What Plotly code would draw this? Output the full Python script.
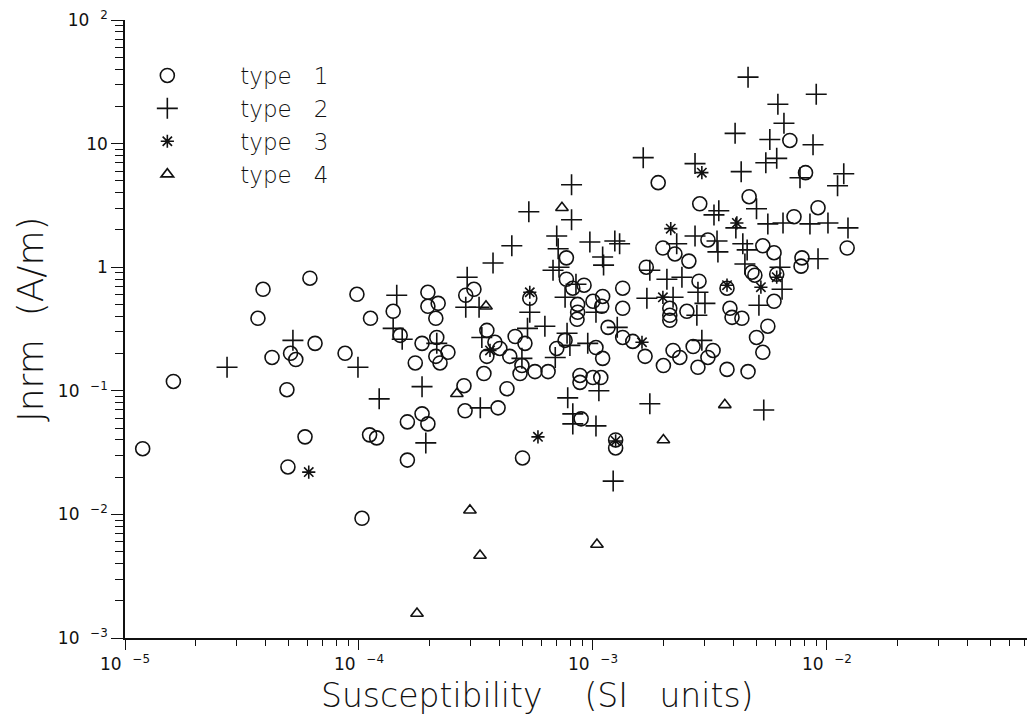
import plotly.graph_objects as go

# ---- data (susceptibility in SI, Jnrm in A/m) ----
type1_x = [1.19e-5, 1.61e-5, 3.89e-5, 3.70e-5, 6.17e-5, 4.25e-5, 5.10e-5, 5.37e-5, 6.49e-5, 8.72e-5,
           4.92e-5, 5.88e-5, 4.97e-5, 9.80e-5, 1.40e-4, 1.12e-4, 1.50e-4, 1.97e-4, 1.97e-4, 2.18e-4,
           2.13e-4, 1.74e-4, 1.86e-4, 2.15e-4, 2.40e-4, 2.13e-4, 2.22e-4, 1.86e-4, 1.61e-4, 1.97e-4,
           1.11e-4, 1.19e-4, 1.61e-4, 1.03e-4, 7.70e-4, 7.70e-4, 8.20e-4, 9.16e-4, 1.34e-3, 1.34e-3,
           8.60e-4, 8.60e-4, 8.55e-4, 1.00e-3, 1.10e-3, 1.09e-3, 3.10e-4, 2.86e-4, 5.37e-4, 3.52e-4,
           1.16e-3, 7.60e-4, 3.81e-4, 4.00e-4, 4.41e-4, 4.65e-4, 5.12e-4, 3.52e-4, 4.97e-4, 5.65e-4,
           6.43e-4, 4.88e-4, 3.42e-4, 4.29e-4, 2.81e-4, 2.84e-4, 3.93e-4, 7.00e-4, 1.03e-3, 1.10e-3,
           1.34e-3, 1.48e-3, 1.67e-3, 2.00e-3, 2.20e-3, 2.35e-3, 8.80e-4, 1.00e-3, 1.08e-3, 8.80e-4,
           8.90e-4, 1.25e-3, 1.25e-3, 5.00e-4, 1.90e-3, 4.65e-3, 9.16e-3, 2.86e-3, 7.23e-3, 3.10e-3,
           1.99e-3, 5.32e-3, 2.24e-3, 2.57e-3, 5.94e-3, 7.82e-3, 7.75e-3, 1.69e-3, 2.84e-3, 4.78e-3,
           4.92e-3, 6.10e-3, 3.74e-3, 5.94e-3, 2.52e-3, 3.85e-3, 3.93e-3, 4.33e-3, 5.59e-3, 2.13e-3,
           2.13e-3, 2.13e-3, 6.94e-3, 8.10e-3, 1.22e-2, 2.68e-3, 3.26e-3, 3.10e-3, 2.81e-3, 3.74e-3,
           4.60e-3, 5.00e-3, 5.32e-3]
type1_y = [0.034, 0.119, 0.663, 0.386, 0.815, 0.186, 0.201, 0.179, 0.242, 0.201,
           0.102, 0.0424, 0.0242, 0.604, 0.440, 0.386, 0.281, 0.627, 0.483, 0.510,
           0.386, 0.168, 0.242, 0.270, 0.205, 0.190, 0.168, 0.0651, 0.056, 0.054,
           0.044, 0.0416, 0.0275, 0.0093, 1.19, 0.799, 0.676, 0.715, 0.676, 0.465,
           0.500, 0.432, 0.379, 0.530, 0.580, 0.483, 0.663, 0.593, 0.560, 0.308,
           0.326, 0.256, 0.247, 0.220, 0.190, 0.275, 0.242, 0.190, 0.160, 0.143,
           0.143, 0.138, 0.138, 0.104, 0.110, 0.0689, 0.0728, 0.220, 0.224, 0.183,
           0.270, 0.251, 0.190, 0.160, 0.212, 0.186, 0.133, 0.128, 0.128, 0.117,
           0.0593, 0.0345, 0.040, 0.0286, 4.83, 3.72, 3.03, 3.26, 2.56, 1.66,
           1.43, 1.49, 1.28, 1.12, 1.31, 1.19, 1.02, 1.00, 0.770, 0.911,
           0.861, 0.877, 0.676, 0.530, 0.440, 0.465, 0.393, 0.386, 0.333, 0.465,
           0.408, 0.372, 10.6, 5.82, 1.43, 0.228, 0.212, 0.186, 0.155, 0.149,
           0.143, 0.270, 0.205]

type2_x = [2.73e-5, 5.22e-5, 1.45e-4, 1.40e-4, 1.53e-4, 9.90e-5, 1.22e-4, 1.86e-4, 1.93e-4, 2.15e-4,
           8.10e-4, 5.32e-4, 8.10e-4, 7.00e-4, 7.10e-4, 9.70e-4, 4.50e-4, 3.74e-4, 1.10e-3, 1.11e-3,
           1.24e-3, 1.30e-3, 6.75e-4, 7.16e-4, 8.46e-4, 7.60e-4, 1.03e-3, 2.90e-4, 2.86e-4, 3.26e-4,
           5.37e-4, 5.25e-4, 6.23e-4, 1.27e-3, 7.75e-4, 7.97e-4, 3.35e-4, 4.97e-4, 6.90e-4, 9.50e-4,
           1.06e-3, 7.80e-4, 8.20e-4, 8.20e-4, 1.03e-3, 1.22e-3, 1.75e-3, 3.30e-4, 1.70e-3, 2.20e-3,
           1.75e-3, 2.07e-3, 2.40e-3, 5.00e-3, 3.29e-3, 3.45e-3, 4.08e-3, 5.59e-3, 6.49e-3, 8.46e-3,
           1.01e-2, 2.73e-3, 3.39e-3, 2.28e-3, 4.37e-3, 4.56e-3, 3.42e-3, 9.16e-3, 2.81e-3, 4.46e-3,
           6.30e-3, 6.43e-3, 3.01e-3, 5.12e-3, 2.78e-3, 2.92e-3, 5.37e-3, 1.11e-2, 1.23e-2, 1.64e-3,
           2.73e-3, 4.60e-3, 9.00e-3, 6.17e-3, 6.55e-3, 4.05e-3, 5.70e-3, 8.72e-3, 5.48e-3, 6.10e-3,
           4.30e-3, 7.67e-3, 1.18e-2]
type2_y = [0.155, 0.256, 0.593, 0.320, 0.261, 0.155, 0.0861, 0.108, 0.0379, 0.242,
           4.65, 2.81, 2.42, 1.79, 1.41, 1.60, 1.49, 1.08, 1.21, 1.04,
           1.63, 1.55, 0.946, 1.00, 0.728, 0.571, 0.432, 0.830, 0.474, 0.474,
           0.432, 0.320, 0.333, 0.326, 0.292, 0.233, 0.270, 0.183, 0.186, 0.242,
           0.100, 0.0877, 0.0651, 0.054, 0.052, 0.0186, 0.0785, 0.0728, 0.560, 0.571,
           0.946, 0.799, 0.830, 2.97, 2.65, 2.86, 2.08, 2.24, 2.28, 2.24,
           2.28, 1.79, 1.63, 1.55, 1.55, 1.38, 1.33, 1.17, 0.627, 1.06,
           1.00, 0.663, 0.510, 0.492, 0.408, 0.256, 0.070, 4.56, 2.08, 7.70,
           6.89, 34.5, 25.1, 20.8, 14.6, 12.1, 10.8, 9.8, 7.0, 7.6,
           5.93, 5.30, 5.71]

type3_x = [6.10e-5, 3.63e-4, 5.37e-4, 5.82e-4, 1.25e-3, 1.62e-3, 1.99e-3, 2.15e-3, 2.92e-3, 4.12e-3,
           3.74e-3, 5.22e-3, 6.10e-3]
type3_y = [0.022, 0.212, 0.627, 0.0424, 0.0393, 0.247, 0.571, 2.05, 5.82, 2.28,
           0.715, 0.689, 0.83]

type4_x = [7.37e-4, 3.49e-4, 2.62e-4, 2.00e-3, 3.66e-3, 2.98e-4, 3.29e-4, 1.04e-3, 1.77e-4]
type4_y = [3.03, 0.483, 0.0946, 0.040, 0.077, 0.0108, 0.00465, 0.0057, 0.00158]

series_names = ["type\u00a0\u00a0\u00a01", "type\u00a0\u00a0\u00a02",
                "type\u00a0\u00a0\u00a03", "type\u00a0\u00a0\u00a04"]

x_tickvals = [1e-5, 1e-4, 1e-3, 1e-2]
x_ticktext = ["10\u00a0 <sup>\u22125</sup>", "10\u00a0 <sup>\u22124</sup>",
              "10\u00a0 <sup>\u22123</sup>", "10\u00a0 <sup>\u22122</sup>"]
y_tickvals = [1e-3, 1e-2, 1e-1, 1, 10, 100]
y_ticktext = ["10\u00a0 <sup>\u22123</sup>", "10\u00a0 <sup>\u22122</sup>", "10\u00a0 <sup>\u22121</sup>",
              "1", "10", "10\u00a0 <sup>2</sup>"]

FONT = "DejaVu Sans"
BLACK = "#111111"

fig = go.Figure()
specs = [
    (type1_x, type1_y, "circle-open", 14),
    (type2_x, type2_y, "cross-thin-open", 15),
    (type3_x, type3_y, "asterisk-open", 11),
    (type4_x, type4_y, "triangle-up-open", 11),
]
for (xs, ys, sym, sz), name in zip(specs, series_names):
    fig.add_trace(go.Scatter(
        x=xs, y=ys, mode="markers", name=name,
        marker=dict(symbol=sym, size=sz, color=BLACK, line=dict(color=BLACK, width=1.6)),
    ))

axis_common = dict(
    type="log", showline=True, linecolor=BLACK, linewidth=1.6, mirror=False,
    showgrid=False, zeroline=False, ticks="outside", tickcolor=BLACK, tickwidth=1.4,
    tickmode="array", tickfont=dict(family=FONT, size=17, color=BLACK),
)
fig.update_xaxes(**axis_common, range=[-5, -1.145], tickvals=x_tickvals, ticktext=x_ticktext,
                 ticklen=10,
                 minor=dict(ticks="outside", ticklen=6, tickwidth=1.2, tickcolor=BLACK, dtick="D1",
                            showgrid=False))
fig.update_yaxes(**axis_common, range=[-3, 2], tickvals=y_tickvals, ticktext=y_ticktext,
                 ticklen=12,
                 minor=dict(ticks="outside", ticklen=8, tickwidth=1.2, tickcolor=BLACK, dtick="D1",
                            showgrid=False))

fig.add_annotation(text="Susceptibility\u00a0\u00a0\u00a0\u00a0(SI\u00a0\u00a0\u00a0units)",
                   xref="paper", yref="paper",
                   x=0.457, y=-0.0925, xanchor="center", yanchor="middle", showarrow=False,
                   borderpad=0,
                   font=dict(family=FONT, size=33, color=BLACK, weight=300))
fig.add_annotation(text="Jnrm\u00a0\u00a0(A/m)", xref="paper", yref="paper", textangle=-90,
                   x=-0.104, y=0.515, xanchor="center", yanchor="middle", showarrow=False,
                   font=dict(family=FONT, size=36, color=BLACK, weight=300))

fig.update_layout(
    width=1027, height=715,
    margin=dict(l=125, r=0, t=20, b=77, pad=0),
    paper_bgcolor="white", plot_bgcolor="white",
    font=dict(family=FONT, color=BLACK),
    showlegend=True,
    legend=dict(x=-0.034, y=0.945, xanchor="left", yanchor="top", bgcolor="rgba(0,0,0,0)",
                font=dict(family=FONT, size=23, color=BLACK, weight=300), itemwidth=136,
                tracegroupgap=0),
)

fig.write_html("out.html")
